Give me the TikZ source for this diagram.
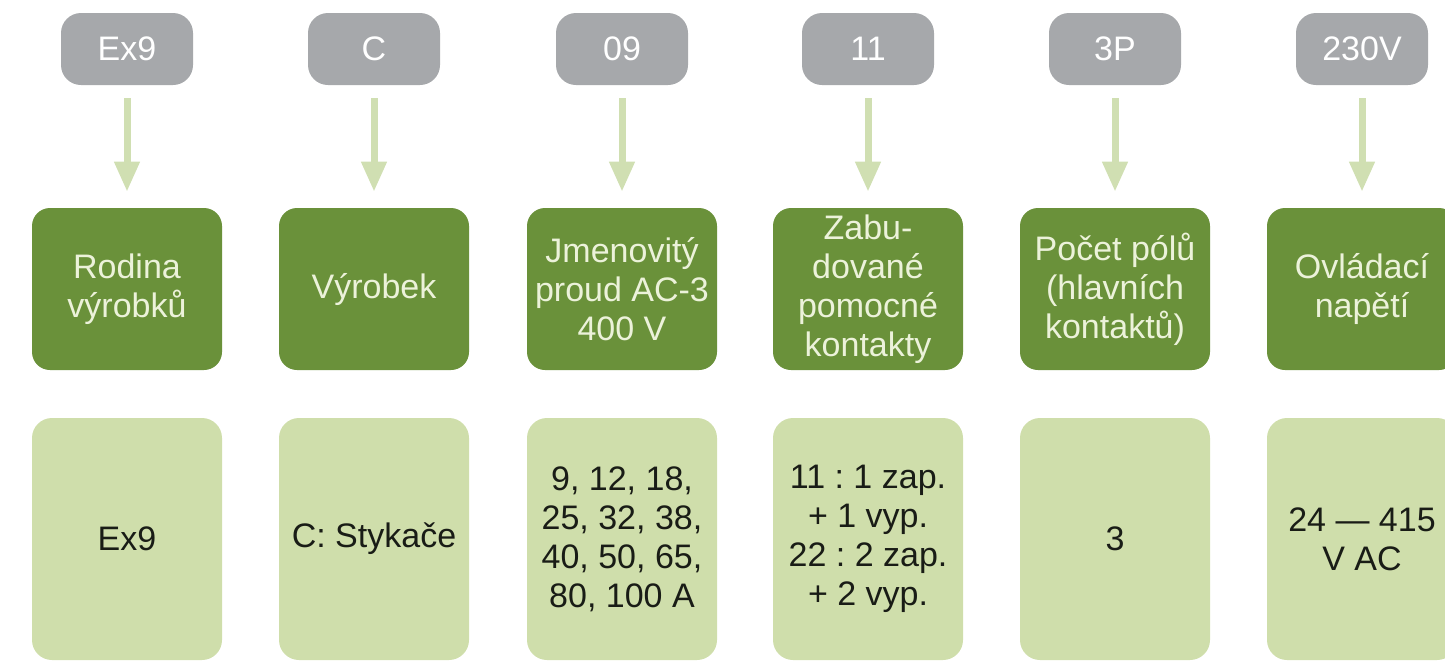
\documentclass[tikz,border=0pt]{standalone}
\usepackage{fontspec}
\setmainfont{Liberation Sans}
\usetikzlibrary{arrows.meta}
\frenchspacing
\definecolor{pillgray}{RGB}{166,168,171}
\definecolor{darkgreen}{RGB}{106,145,58}
\definecolor{lightgreen}{RGB}{207,222,171}
\definecolor{arrowgreen}{RGB}{208,223,178}
\definecolor{paletext}{RGB}{236,242,218}
\definecolor{darktext}{RGB}{25,28,22}
\tikzset{
  basefont/.style={font=\frenchspacing\fontsize{25.5pt}{29.25pt}\selectfont, align=center, inner sep=0pt},
  pill/.style={basefont, fill=pillgray, text=white, rounded corners=15pt, minimum width=99pt, minimum height=54pt},
  headbox/.style={basefont, fill=darkgreen, text=paletext, rounded corners=13.5pt, minimum width=142.5pt, minimum height=121.5pt},
  valbox/.style={basefont, fill=lightgreen, text=darktext, rounded corners=15pt, minimum width=142.5pt, minimum height=181.5pt},
  flow/.style={draw=arrowgreen, line width=5.25pt, -{Triangle[width=18pt,length=22.5pt]}, shorten <=9.75pt, shorten >=12pt}
}
\begin{document}
\begin{tikzpicture}[x=0.75pt,y=-0.75pt]
\useasboundingbox (0,0) rectangle (1445,662);
\clip (0,0) rectangle (1445,662);
% columns
\foreach \i/\cx/\top/\mid/\bot in {
  1/127/Ex9/{Rodina\\výrobků}/Ex9,
  2/374/C/Výrobek/{C: Stykače},
  3/622/09/{Jmenovitý\\proud AC-3\\400 V}/{9, 12, 18,\\25, 32, 38,\\40, 50, 65,\\80, 100 A},
  4/868/11/{Zabu-\\dované\\pomocné\\kontakty}/{11 : 1 zap.\\+ 1 vyp.\\22 : 2 zap.\\+ 2 vyp.},
  5/1115/3P/{Počet pólů\\(hlavních\\kontaktů)}/3,
  6/1362/230V/{Ovládací\\napětí}/{24 — 415\\V AC}}{
  \node[pill] (p\i) at (\cx,49) {\top};
  \node[headbox] (h\i) at (\cx,289) {\mid};
  \node[valbox] (v\i) at (\cx,539) {\bot};
  \draw[flow] (p\i.south) -- (h\i.north);
}
\end{tikzpicture}
\end{document}
